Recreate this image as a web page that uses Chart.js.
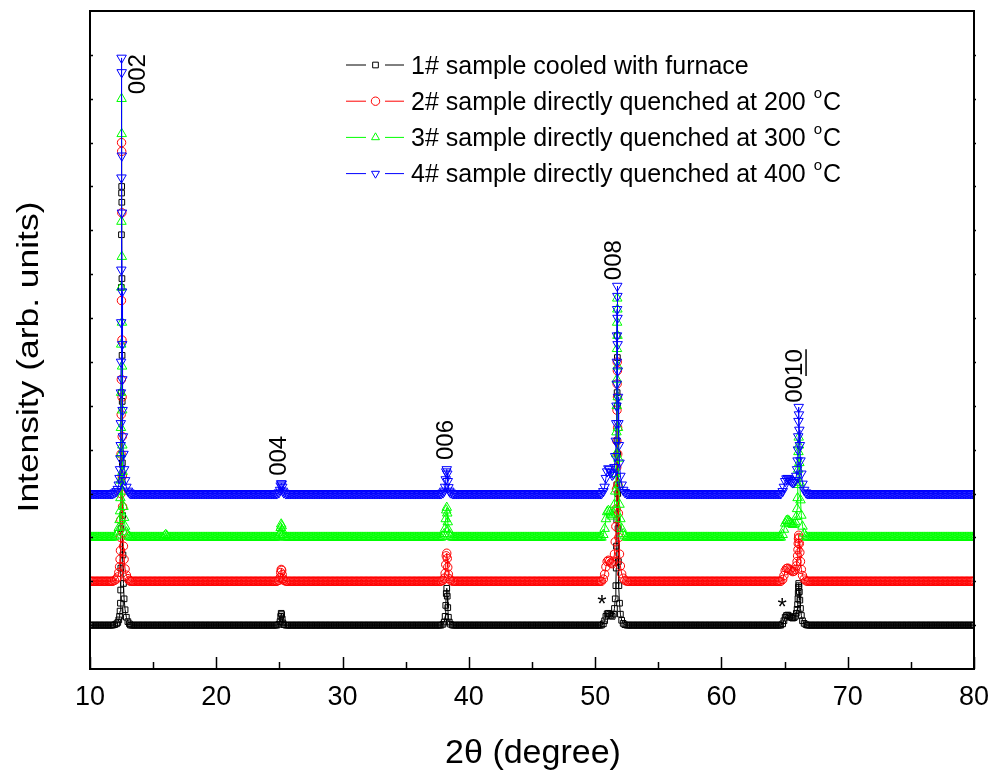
<!DOCTYPE html>
<html lang="en">
<head>
  <meta charset="UTF-8">
  <title>XRD patterns</title>
  <script src="https://cdn.jsdelivr.net/npm/chart.js"></script>
  <style>
    body { margin: 0; background: #fff; }
    #xrd { display: block; }
  </style>
</head>
<body>
  <canvas id="xrd" width="989" height="773"></canvas>
  <script>
    // scan positions, 2theta in degree (shared by the four patterns)
    const twoTheta = [
      10, 10.1, 10.2, 10.3, 10.4, 10.5, 10.6, 10.7, 10.8, 10.9,
      11, 11.1, 11.2, 11.3, 11.4, 11.5, 11.6, 11.7, 11.8,
      // 002
      11.95, 12.1, 12.2, 12.28, 12.34, 12.38, 12.41,
      12.43, 12.44, 12.45, 12.46, 12.47, 12.48, 12.49, 12.5, 12.51, 12.52, 12.53, 12.54, 12.55, 12.56,
      12.58, 12.61, 12.65, 12.7, 12.78, 12.88, 13, 13.12,
      13.2, 13.3, 13.4, 13.5, 13.6, 13.7, 13.8, 13.9,
      14, 14.1, 14.2, 14.3, 14.4, 14.5, 14.6, 14.7, 14.8, 14.9,
      15, 15.1, 15.2, 15.3, 15.4, 15.5, 15.6, 15.7, 15.8, 15.9,
      16, 16.1, 16.2, 16.3, 16.4, 16.5, 16.6, 16.7, 16.8, 16.9,
      17, 17.1, 17.2, 17.3, 17.4, 17.5, 17.6, 17.7, 17.8, 17.9,
      18, 18.1, 18.2, 18.3, 18.4, 18.5, 18.6, 18.7, 18.8, 18.9,
      19, 19.1, 19.2, 19.3, 19.4, 19.5, 19.6, 19.7, 19.8, 19.9,
      20, 20.1, 20.2, 20.3, 20.4, 20.5, 20.6, 20.7, 20.8, 20.9,
      21, 21.1, 21.2, 21.3, 21.4, 21.5, 21.6, 21.7, 21.8, 21.9,
      22, 22.1, 22.2, 22.3, 22.4, 22.5, 22.6, 22.7, 22.8, 22.9,
      23, 23.1, 23.2, 23.3, 23.4, 23.5, 23.6, 23.7, 23.8, 23.9,
      24, 24.1, 24.2, 24.3, 24.4, 24.5, 24.6, 24.7, 24.8,
      // 004
      24.95, 25.05, 25.1, 25.14, 25.18, 25.22, 25.27, 25.35,
      25.5, 25.6, 25.7, 25.8, 25.9,
      26, 26.1, 26.2, 26.3, 26.4, 26.5, 26.6, 26.7, 26.8, 26.9,
      27, 27.1, 27.2, 27.3, 27.4, 27.5, 27.6, 27.7, 27.8, 27.9,
      28, 28.1, 28.2, 28.3, 28.4, 28.5, 28.6, 28.7, 28.8, 28.9,
      29, 29.1, 29.2, 29.3, 29.4, 29.5, 29.6, 29.7, 29.8, 29.9,
      30, 30.1, 30.2, 30.3, 30.4, 30.5, 30.6, 30.7, 30.8, 30.9,
      31, 31.1, 31.2, 31.3, 31.4, 31.5, 31.6, 31.7, 31.8, 31.9,
      32, 32.1, 32.2, 32.3, 32.4, 32.5, 32.6, 32.7, 32.8, 32.9,
      33, 33.1, 33.2, 33.3, 33.4, 33.5, 33.6, 33.7, 33.8, 33.9,
      34, 34.1, 34.2, 34.3, 34.4, 34.5, 34.6, 34.7, 34.8, 34.9,
      35, 35.1, 35.2, 35.3, 35.4, 35.5, 35.6, 35.7, 35.8, 35.9,
      36, 36.1, 36.2, 36.3, 36.4, 36.5, 36.6, 36.7, 36.8, 36.9,
      37, 37.1, 37.2, 37.3, 37.4, 37.5, 37.6, 37.7, 37.8,
      // 006
      37.95, 38.05, 38.12, 38.17, 38.21, 38.25, 38.29, 38.33, 38.38, 38.45, 38.55,
      38.7, 38.8, 38.9,
      39, 39.1, 39.2, 39.3, 39.4, 39.5, 39.6, 39.7, 39.8, 39.9,
      40, 40.1, 40.2, 40.3, 40.4, 40.5, 40.6, 40.7, 40.8, 40.9,
      41, 41.1, 41.2, 41.3, 41.4, 41.5, 41.6, 41.7, 41.8, 41.9,
      42, 42.1, 42.2, 42.3, 42.4, 42.5, 42.6, 42.7, 42.8, 42.9,
      43, 43.1, 43.2, 43.3, 43.4, 43.5, 43.6, 43.7, 43.8, 43.9,
      44, 44.1, 44.2, 44.3, 44.4, 44.5, 44.6, 44.7, 44.8, 44.9,
      45, 45.1, 45.2, 45.3, 45.4, 45.5, 45.6, 45.7, 45.8, 45.9,
      46, 46.1, 46.2, 46.3, 46.4, 46.5, 46.6, 46.7, 46.8, 46.9,
      47, 47.1, 47.2, 47.3, 47.4, 47.5, 47.6, 47.7, 47.8, 47.9,
      48, 48.1, 48.2, 48.3, 48.4, 48.5, 48.6, 48.7, 48.8, 48.9,
      49, 49.1, 49.2, 49.3, 49.4, 49.5, 49.6, 49.7, 49.8, 49.9,
      50, 50.1, 50.2, 50.3, 50.4, 50.5,
      // impurity shoulder + 008
      50.65, 50.75, 50.85, 50.95, 51.05, 51.15, 51.25, 51.35, 51.45,
      51.53, 51.59, 51.64, 51.67, 51.69,
      51.71, 51.72, 51.73, 51.74, 51.75, 51.76, 51.77, 51.78, 51.79,
      51.81, 51.84, 51.88, 51.93, 52, 52.1, 52.22, 52.35,
      52.5, 52.6, 52.7, 52.8, 52.9,
      53, 53.1, 53.2, 53.3, 53.4, 53.5, 53.6, 53.7, 53.8, 53.9,
      54, 54.1, 54.2, 54.3, 54.4, 54.5, 54.6, 54.7, 54.8, 54.9,
      55, 55.1, 55.2, 55.3, 55.4, 55.5, 55.6, 55.7, 55.8, 55.9,
      56, 56.1, 56.2, 56.3, 56.4, 56.5, 56.6, 56.7, 56.8, 56.9,
      57, 57.1, 57.2, 57.3, 57.4, 57.5, 57.6, 57.7, 57.8, 57.9,
      58, 58.1, 58.2, 58.3, 58.4, 58.5, 58.6, 58.7, 58.8, 58.9,
      59, 59.1, 59.2, 59.3, 59.4, 59.5, 59.6, 59.7, 59.8, 59.9,
      60, 60.1, 60.2, 60.3, 60.4, 60.5, 60.6, 60.7, 60.8, 60.9,
      61, 61.1, 61.2, 61.3, 61.4, 61.5, 61.6, 61.7, 61.8, 61.9,
      62, 62.1, 62.2, 62.3, 62.4, 62.5, 62.6, 62.7, 62.8, 62.9,
      63, 63.1, 63.2, 63.3, 63.4, 63.5, 63.6, 63.7, 63.8, 63.9,
      64, 64.1, 64.2, 64.3, 64.4, 64.5, 64.6, 64.7,
      // impurity shoulder + 0010
      64.85, 64.95, 65.05, 65.15, 65.25, 65.35, 65.45, 65.55, 65.65, 65.75, 65.85,
      65.93, 65.99, 66.03, 66.06, 66.08, 66.1, 66.12, 66.14, 66.17, 66.21, 66.26, 66.33, 66.42, 66.55, 66.7,
      66.8, 66.9,
      67, 67.1, 67.2, 67.3, 67.4, 67.5, 67.6, 67.7, 67.8, 67.9,
      68, 68.1, 68.2, 68.3, 68.4, 68.5, 68.6, 68.7, 68.8, 68.9,
      69, 69.1, 69.2, 69.3, 69.4, 69.5, 69.6, 69.7, 69.8, 69.9,
      70, 70.1, 70.2, 70.3, 70.4, 70.5, 70.6, 70.7, 70.8, 70.9,
      71, 71.1, 71.2, 71.3, 71.4, 71.5, 71.6, 71.7, 71.8, 71.9,
      72, 72.1, 72.2, 72.3, 72.4, 72.5, 72.6, 72.7, 72.8, 72.9,
      73, 73.1, 73.2, 73.3, 73.4, 73.5, 73.6, 73.7, 73.8, 73.9,
      74, 74.1, 74.2, 74.3, 74.4, 74.5, 74.6, 74.7, 74.8, 74.9,
      75, 75.1, 75.2, 75.3, 75.4, 75.5, 75.6, 75.7, 75.8, 75.9,
      76, 76.1, 76.2, 76.3, 76.4, 76.5, 76.6, 76.7, 76.8, 76.9,
      77, 77.1, 77.2, 77.3, 77.4, 77.5, 77.6, 77.7, 77.8, 77.9,
      78, 78.1, 78.2, 78.3, 78.4, 78.5, 78.6, 78.7, 78.8, 78.9,
      79, 79.1, 79.2, 79.3, 79.4, 79.5, 79.6, 79.7, 79.8, 79.9,
      80
    ];

    // intensities (arb. units) above each pattern's own baseline
    const furnace = [
      0,0,0,0,0,0,0,0,0,0,
      0,0,0,0,0,0,0,0,0,
      0.01, 0.03, 0.06, 0.12, 0.2, 0.32, 0.5,
      0.8, 1.3, 2.2, 3.3, 5.3, 7.7, 8.9, 9.85, 10, 9.64, 7.9, 6.15, 5.1, 3.7,
      2.5, 1.6, 0.95, 0.6, 0.35, 0.18, 0.08, 0.03,
      0,0,0,0,0,0,0,0,
      0,0,0,0,0,0,0,0,0,0, 0,0,0,0,0,0,0,0,0,0, 0,0,0,0,0,0,0,0,0,0, 0,0,0,0,0,0,0,0,0,0,
      0,0,0,0,0,0,0,0,0,0, 0,0,0,0,0,0,0,0,0,0, 0,0,0,0,0,0,0,0,0,0, 0,0,0,0,0,0,0,0,0,0,
      0,0,0,0,0,0,0,0,0,0, 0,0,0,0,0,0,0,0,0,0,
      0,0,0,0,0,0,0,0,0,
      0.02, 0.08, 0.2, 0.27, 0.24, 0.14, 0.05, 0.01,
      0,0,0,0,0,
      0,0,0,0,0,0,0,0,0,0, 0,0,0,0,0,0,0,0,0,0, 0,0,0,0,0,0,0,0,0,0, 0,0,0,0,0,0,0,0,0,0,
      0,0,0,0,0,0,0,0,0,0, 0,0,0,0,0,0,0,0,0,0, 0,0,0,0,0,0,0,0,0,0, 0,0,0,0,0,0,0,0,0,0,
      0,0,0,0,0,0,0,0,0,0, 0,0,0,0,0,0,0,0,0,0, 0,0,0,0,0,0,0,0,0,0,
      0,0,0,0,0,0,0,0,0,
      0.02, 0.07, 0.2, 0.45, 0.72, 0.84, 0.66, 0.4, 0.18, 0.07, 0.02,
      0,0,0,
      0,0,0,0,0,0,0,0,0,0, 0,0,0,0,0,0,0,0,0,0, 0,0,0,0,0,0,0,0,0,0, 0,0,0,0,0,0,0,0,0,0,
      0,0,0,0,0,0,0,0,0,0, 0,0,0,0,0,0,0,0,0,0, 0,0,0,0,0,0,0,0,0,0, 0,0,0,0,0,0,0,0,0,0,
      0,0,0,0,0,0,0,0,0,0, 0,0,0,0,0,0,0,0,0,0, 0,0,0,0,0,0,0,0,0,0,
      0,0,0,0,0,0,
      0.03, 0.1, 0.2, 0.26, 0.27, 0.25, 0.22, 0.2, 0.25,
      0.38, 0.6, 0.9, 1.3, 1.8,
      2.4, 3.2, 4.2, 5.3, 6.6, 6.1, 5, 3.9, 3,
      2.2, 1.45, 0.9, 0.5, 0.25, 0.11, 0.04, 0.01,
      0,0,0,0,0,
      0,0,0,0,0,0,0,0,0,0, 0,0,0,0,0,0,0,0,0,0, 0,0,0,0,0,0,0,0,0,0, 0,0,0,0,0,0,0,0,0,0,
      0,0,0,0,0,0,0,0,0,0, 0,0,0,0,0,0,0,0,0,0, 0,0,0,0,0,0,0,0,0,0, 0,0,0,0,0,0,0,0,0,0,
      0,0,0,0,0,0,0,0,0,0, 0,0,0,0,0,0,0,0,0,0, 0,0,0,0,0,0,0,0,0,0,
      0,0,0,0,0,0,0,0,
      0.03, 0.1, 0.18, 0.22, 0.23, 0.21, 0.19, 0.17, 0.16, 0.17, 0.2,
      0.27, 0.36, 0.47, 0.6, 0.73, 0.86, 0.95, 0.9, 0.76, 0.57, 0.38, 0.22, 0.1, 0.04, 0.01,
      0,0,
      0,0,0,0,0,0,0,0,0,0, 0,0,0,0,0,0,0,0,0,0, 0,0,0,0,0,0,0,0,0,0, 0,0,0,0,0,0,0,0,0,0,
      0,0,0,0,0,0,0,0,0,0, 0,0,0,0,0,0,0,0,0,0, 0,0,0,0,0,0,0,0,0,0, 0,0,0,0,0,0,0,0,0,0,
      0,0,0,0,0,0,0,0,0,0, 0,0,0,0,0,0,0,0,0,0, 0,0,0,0,0,0,0,0,0,0, 0,0,0,0,0,0,0,0,0,0,
      0,0,0,0,0,0,0,0,0,0,
      0
    ];

    const quench200 = [
      0,0,0,0,0,0,0,0,0,0,
      0,0,0,0,0,0,0,0,0,
      0.02, 0.05, 0.1, 0.2, 0.33, 0.5, 0.7,
      1, 1.4, 2, 2.9, 3.8, 4.6, 6.4, 10, 9.8, 8.4, 5.5, 4.2, 3.3, 2.4,
      1.7, 1.1, 0.8, 0.5, 0.28, 0.14, 0.06, 0.02,
      0,0,0,0,0,0,0,0,
      0,0,0,0,0,0,0,0,0,0, 0,0,0,0,0,0,0,0,0,0, 0,0,0,0,0,0,0,0,0,0, 0,0,0,0,0,0,0,0,0,0,
      0,0,0,0,0,0,0,0,0,0, 0,0,0,0,0,0,0,0,0,0, 0,0,0,0,0,0,0,0,0,0, 0,0,0,0,0,0,0,0,0,0,
      0,0,0,0,0,0,0,0,0,0, 0,0,0,0,0,0,0,0,0,0,
      0,0,0,0,0,0,0,0,0,
      0.02, 0.08, 0.2, 0.27, 0.25, 0.15, 0.06, 0.02,
      0,0,0,0,0,
      0,0,0,0,0,0,0,0,0,0, 0,0,0,0,0,0,0,0,0,0, 0,0,0,0,0,0,0,0,0,0, 0,0,0,0,0,0,0,0,0,0,
      0,0,0,0,0,0,0,0,0,0, 0,0,0,0,0,0,0,0,0,0, 0,0,0,0,0,0,0,0,0,0, 0,0,0,0,0,0,0,0,0,0,
      0,0,0,0,0,0,0,0,0,0, 0,0,0,0,0,0,0,0,0,0, 0,0,0,0,0,0,0,0,0,0,
      0,0,0,0,0,0,0,0,0,
      0.02, 0.07, 0.18, 0.38, 0.58, 0.64, 0.52, 0.32, 0.16, 0.06, 0.02,
      0,0,0,
      0,0,0,0,0,0,0,0,0,0, 0,0,0,0,0,0,0,0,0,0, 0,0,0,0,0,0,0,0,0,0, 0,0,0,0,0,0,0,0,0,0,
      0,0,0,0,0,0,0,0,0,0, 0,0,0,0,0,0,0,0,0,0, 0,0,0,0,0,0,0,0,0,0, 0,0,0,0,0,0,0,0,0,0,
      0,0,0,0,0,0,0,0,0,0, 0,0,0,0,0,0,0,0,0,0, 0,0,0,0,0,0,0,0,0,0,
      0,0,0,0,0,0,
      0.05, 0.16, 0.33, 0.45, 0.48, 0.46, 0.42, 0.4, 0.46,
      0.62, 0.9, 1.25, 1.65, 2.1,
      2.6, 3.2, 3.9, 4.5, 5, 4.8, 4.2, 3.5, 2.9,
      2.2, 1.55, 1, 0.62, 0.35, 0.17, 0.07, 0.02,
      0,0,0,0,0,
      0,0,0,0,0,0,0,0,0,0, 0,0,0,0,0,0,0,0,0,0, 0,0,0,0,0,0,0,0,0,0, 0,0,0,0,0,0,0,0,0,0,
      0,0,0,0,0,0,0,0,0,0, 0,0,0,0,0,0,0,0,0,0, 0,0,0,0,0,0,0,0,0,0, 0,0,0,0,0,0,0,0,0,0,
      0,0,0,0,0,0,0,0,0,0, 0,0,0,0,0,0,0,0,0,0, 0,0,0,0,0,0,0,0,0,0,
      0,0,0,0,0,0,0,0,
      0.04, 0.13, 0.24, 0.29, 0.3, 0.28, 0.26, 0.24, 0.22, 0.23, 0.27,
      0.35, 0.45, 0.58, 0.72, 0.86, 0.97, 1.05, 1, 0.86, 0.66, 0.45, 0.27, 0.13, 0.05, 0.01,
      0,0,
      0,0,0,0,0,0,0,0,0,0, 0,0,0,0,0,0,0,0,0,0, 0,0,0,0,0,0,0,0,0,0, 0,0,0,0,0,0,0,0,0,0,
      0,0,0,0,0,0,0,0,0,0, 0,0,0,0,0,0,0,0,0,0, 0,0,0,0,0,0,0,0,0,0, 0,0,0,0,0,0,0,0,0,0,
      0,0,0,0,0,0,0,0,0,0, 0,0,0,0,0,0,0,0,0,0, 0,0,0,0,0,0,0,0,0,0, 0,0,0,0,0,0,0,0,0,0,
      0,0,0,0,0,0,0,0,0,0,
      0
    ];

    const quench300 = [
      0,0,0,0,0,0,0,0,0,0,
      0,0,0,0,0,0,0,0,0,
      0.02, 0.05, 0.12, 0.22, 0.4, 0.6, 0.9,
      1.3, 1.9, 2.5, 3.3, 4.4, 5.7, 7.2, 10, 9.2, 6.4, 4.9, 3.9, 2.9, 2.1,
      1.5, 1.05, 0.7, 0.45, 0.25, 0.12, 0.05, 0.02,
      0,0,0,0,0,0,0,0,
      0,0,0,0,0,0,0,0,0,0,
      0,0,0,0,0,0,0,0,0,0.03,
      0.06,0.03,0,0,0,0,0,0,0,0,
      0,0,0,0,0,0,0,0,0,0, 0,0,0,0,0,0,0,0,0,0, 0,0,0,0,0,0,0,0,0,0, 0,0,0,0,0,0,0,0,0,0,
      0,0,0,0,0,0,0,0,0,0, 0,0,0,0,0,0,0,0,0,0, 0,0,0,0,0,0,0,0,0,0,
      0,0,0,0,0,0,0,0,0,
      0.03, 0.1, 0.22, 0.3, 0.26, 0.16, 0.06, 0.02,
      0,0,0,0,0,
      0,0,0,0,0,0,0,0,0,0, 0,0,0,0,0,0,0,0,0,0, 0,0,0,0,0,0,0,0,0,0, 0,0,0,0,0,0,0,0,0,0,
      0,0,0,0,0,0,0,0,0,0, 0,0,0,0,0,0,0,0,0,0, 0,0,0,0,0,0,0,0,0,0, 0,0,0,0,0,0,0,0,0,0,
      0,0,0,0,0,0,0,0,0,0, 0,0,0,0,0,0,0,0,0,0, 0,0,0,0,0,0,0,0,0,0,
      0,0,0,0,0,0,0,0,0,
      0.02, 0.08, 0.2, 0.42, 0.62, 0.68, 0.55, 0.35, 0.17, 0.07, 0.02,
      0,0,0,
      0,0,0,0,0,0,0,0,0,0, 0,0,0,0,0,0,0,0,0,0, 0,0,0,0,0,0,0,0,0,0, 0,0,0,0,0,0,0,0,0,0,
      0,0,0,0,0,0,0,0,0,0, 0,0,0,0,0,0,0,0,0,0, 0,0,0,0,0,0,0,0,0,0, 0,0,0,0,0,0,0,0,0,0,
      0,0,0,0,0,0,0,0,0,0, 0,0,0,0,0,0,0,0,0,0, 0,0,0,0,0,0,0,0,0,0,
      0,0,0,0,0,0,
      0.06, 0.2, 0.42, 0.58, 0.61, 0.58, 0.52, 0.48, 0.55,
      0.75, 1.05, 1.45, 1.9, 2.4,
      3, 3.6, 4.3, 4.9, 5.45, 5.2, 4.6, 3.9, 3.2,
      2.5, 1.8, 1.2, 0.75, 0.42, 0.2, 0.08, 0.03,
      0,0,0,0,0,
      0,0,0,0,0,0,0,0,0,0, 0,0,0,0,0,0,0,0,0,0, 0,0,0,0,0,0,0,0,0,0, 0,0,0,0,0,0,0,0,0,0,
      0,0,0,0,0,0,0,0,0,0, 0,0,0,0,0,0,0,0,0,0, 0,0,0,0,0,0,0,0,0,0, 0,0,0,0,0,0,0,0,0,0,
      0,0,0,0,0,0,0,0,0,0, 0,0,0,0,0,0,0,0,0,0, 0,0,0,0,0,0,0,0,0,0,
      0,0,0,0,0,0,0,0,
      0.06, 0.18, 0.32, 0.38, 0.39, 0.37, 0.34, 0.31, 0.29, 0.3, 0.35,
      0.47, 0.65, 0.9, 1.2, 1.55, 1.95, 2.28, 2.1, 1.7, 1.25, 0.85, 0.5, 0.25, 0.09, 0.02,
      0,0,
      0,0,0,0,0,0,0,0,0,0, 0,0,0,0,0,0,0,0,0,0, 0,0,0,0,0,0,0,0,0,0, 0,0,0,0,0,0,0,0,0,0,
      0,0,0,0,0,0,0,0,0,0, 0,0,0,0,0,0,0,0,0,0, 0,0,0,0,0,0,0,0,0,0, 0,0,0,0,0,0,0,0,0,0,
      0,0,0,0,0,0,0,0,0,0, 0,0,0,0,0,0,0,0,0,0, 0,0,0,0,0,0,0,0,0,0, 0,0,0,0,0,0,0,0,0,0,
      0,0,0,0,0,0,0,0,0,0,
      0
    ];

    const quench400 = [
      0,0,0,0,0,0,0,0,0,0,
      0,0,0,0,0,0,0,0,0,
      0.02, 0.05, 0.1, 0.2, 0.35, 0.55, 0.8,
      1.1, 1.6, 2.3, 3, 3.9, 5.1, 7.2, 9.93, 9.6, 7.7, 6.4, 4.6, 3.4, 2.6,
      1.9, 1.3, 0.9, 0.55, 0.3, 0.15, 0.06, 0.02,
      0,0,0,0,0,0,0,0,
      0,0,0,0,0,0,0,0,0,0, 0,0,0,0,0,0,0,0,0,0, 0,0,0,0,0,0,0,0,0,0, 0,0,0,0,0,0,0,0,0,0,
      0,0,0,0,0,0,0,0,0,0, 0,0,0,0,0,0,0,0,0,0, 0,0,0,0,0,0,0,0,0,0, 0,0,0,0,0,0,0,0,0,0,
      0,0,0,0,0,0,0,0,0,0, 0,0,0,0,0,0,0,0,0,0,
      0,0,0,0,0,0,0,0,0,
      0.02, 0.08, 0.18, 0.23, 0.22, 0.15, 0.06, 0.02,
      0,0,0,0,0,
      0,0,0,0,0,0,0,0,0,0, 0,0,0,0,0,0,0,0,0,0, 0,0,0,0,0,0,0,0,0,0, 0,0,0,0,0,0,0,0,0,0,
      0,0,0,0,0,0,0,0,0,0, 0,0,0,0,0,0,0,0,0,0, 0,0,0,0,0,0,0,0,0,0, 0,0,0,0,0,0,0,0,0,0,
      0,0,0,0,0,0,0,0,0,0, 0,0,0,0,0,0,0,0,0,0, 0,0,0,0,0,0,0,0,0,0,
      0,0,0,0,0,0,0,0,0,
      0.02, 0.06, 0.15, 0.32, 0.5, 0.55, 0.45, 0.28, 0.14, 0.06, 0.02,
      0,0,0,
      0,0,0,0,0,0,0,0,0,0, 0,0,0,0,0,0,0,0,0,0, 0,0,0,0,0,0,0,0,0,0, 0,0,0,0,0,0,0,0,0,0,
      0,0,0,0,0,0,0,0,0,0, 0,0,0,0,0,0,0,0,0,0, 0,0,0,0,0,0,0,0,0,0, 0,0,0,0,0,0,0,0,0,0,
      0,0,0,0,0,0,0,0,0,0, 0,0,0,0,0,0,0,0,0,0, 0,0,0,0,0,0,0,0,0,0,
      0,0,0,0,0,0,
      0.05, 0.15, 0.35, 0.5, 0.57, 0.55, 0.48, 0.42, 0.45,
      0.6, 0.85, 1.2, 1.6, 2,
      2.5, 3, 3.6, 4.2, 4.73, 4.5, 4, 3.4, 2.8,
      2.2, 1.6, 1.1, 0.7, 0.4, 0.2, 0.08, 0.03,
      0,0,0,0,0,
      0,0,0,0,0,0,0,0,0,0, 0,0,0,0,0,0,0,0,0,0, 0,0,0,0,0,0,0,0,0,0, 0,0,0,0,0,0,0,0,0,0,
      0,0,0,0,0,0,0,0,0,0, 0,0,0,0,0,0,0,0,0,0, 0,0,0,0,0,0,0,0,0,0, 0,0,0,0,0,0,0,0,0,0,
      0,0,0,0,0,0,0,0,0,0, 0,0,0,0,0,0,0,0,0,0, 0,0,0,0,0,0,0,0,0,0,
      0,0,0,0,0,0,0,0,
      0.05, 0.15, 0.28, 0.34, 0.35, 0.33, 0.3, 0.27, 0.25, 0.26, 0.3,
      0.4, 0.55, 0.75, 1, 1.3, 1.65, 1.97, 1.8, 1.45, 1.1, 0.75, 0.45, 0.22, 0.08, 0.02,
      0,0,
      0,0,0,0,0,0,0,0,0,0, 0,0,0,0,0,0,0,0,0,0, 0,0,0,0,0,0,0,0,0,0, 0,0,0,0,0,0,0,0,0,0,
      0,0,0,0,0,0,0,0,0,0, 0,0,0,0,0,0,0,0,0,0, 0,0,0,0,0,0,0,0,0,0, 0,0,0,0,0,0,0,0,0,0,
      0,0,0,0,0,0,0,0,0,0, 0,0,0,0,0,0,0,0,0,0, 0,0,0,0,0,0,0,0,0,0, 0,0,0,0,0,0,0,0,0,0,
      0,0,0,0,0,0,0,0,0,0,
      0
    ];

    // vertical shift of each pattern so they stack
    const offsets = [1, 2, 3, 4];

    const seriesLabels = [
      '1# sample cooled with furnace',
      '2# sample directly quenched at 200 °C',
      '3# sample directly quenched at 300 °C',
      '4# sample directly quenched at 400 °C'
    ];
    const peakLabels = ['002', '004', '006', '008', '0010'];

    const FONT = 'Arial, "Liberation Sans", Helvetica, sans-serif';
    const patterns = [furnace, quench200, quench300, quench400];
    patterns.forEach((p, i) => {
      if (p.length !== twoTheta.length) {
        throw new Error('pattern ' + i + ' has ' + p.length + ' values, scan has ' + twoTheta.length);
      }
    });

    const colors = ['#000000', '#ff0000', '#00ff00', '#0000ff'];
    const markers = [
      { pointStyle: 'rect', radius: 4, rotation: 0 },
      { pointStyle: 'circle', radius: 4.2, rotation: 0 },
      { pointStyle: 'triangle', radius: 5.5, rotation: 0 },
      { pointStyle: 'triangle', radius: 5.5, rotation: 180 }
    ];

    const datasets = patterns.map((vals, i) => ({
      label: seriesLabels[i],
      data: twoTheta.map((t, k) => ({ x: t, y: vals[k] + offsets[i] })),
      borderColor: colors[i],
      borderWidth: 1,
      pointStyle: markers[i].pointStyle,
      pointRadius: markers[i].radius,
      pointRotation: markers[i].rotation,
      pointBorderColor: colors[i],
      pointBackgroundColor: 'rgba(0,0,0,0)',
      pointBorderWidth: 1,
      fill: false,
      tension: 0,
      order: 4 - i   // 400 °C pattern ends up on top
    }));

    // frame, inward ticks, axis titles, legend and peak indices
    const decor = {
      id: 'decor',
      afterDatasetsDraw(chart) {
        const { ctx, chartArea: a, scales: { x, y } } = chart;
        ctx.save();
        ctx.strokeStyle = '#000';
        ctx.fillStyle = '#000';

        ctx.lineWidth = 2;
        ctx.strokeRect(a.left, a.top, a.right - a.left, a.bottom - a.top);

        ctx.lineWidth = 1.5;
        ctx.beginPath();
        for (let v = 10; v <= 80; v += 5) {
          const px = Math.round(x.getPixelForValue(v)) + 0.5;
          const len = v % 10 === 0 ? 12 : 7;
          ctx.moveTo(px, a.bottom);
          ctx.lineTo(px, a.bottom - len);
        }
        for (let v = 1; v < 15; v++) {
          const py = Math.round(y.getPixelForValue(v)) + 0.5;
          ctx.moveTo(a.left, py); ctx.lineTo(a.left + 3, py);
          ctx.moveTo(a.right, py); ctx.lineTo(a.right + 2, py);
        }
        ctx.stroke();

        // axis titles
        ctx.textAlign = 'center';
        ctx.textBaseline = 'middle';
        ctx.font = '30px ' + FONT;
        ctx.save();
        ctx.translate(30, 357);
        ctx.rotate(-Math.PI / 2);
        ctx.scale(1.18, 1);
        ctx.fillText('Intensity (arb. units)', 0, 0);
        ctx.restore();
        ctx.font = '34px ' + FONT;
        ctx.fillText('2θ (degree)', 533, 754);

        // legend
        const lx = 346, tx = 411;
        seriesLabels.forEach((label, i) => {
          const ym = 65 + i * 36.2;
          const yb = 73.5 + i * 36.2;
          ctx.strokeStyle = colors[i];
          ctx.lineWidth = 1;
          ctx.beginPath();
          ctx.moveTo(lx, ym); ctx.lineTo(lx + 20, ym);
          ctx.moveTo(lx + 39, ym); ctx.lineTo(lx + 58, ym);
          ctx.stroke();
          ctx.fillStyle = 'rgba(0,0,0,0)';
          Chart.helpers.drawPoint(ctx, {
            pointStyle: markers[i].pointStyle,
            rotation: markers[i].rotation,
            radius: Math.min(markers[i].radius, 4.6),
            borderWidth: 1
          }, lx + 29.5, ym);

          ctx.fillStyle = '#000';
          ctx.textAlign = 'left';
          ctx.textBaseline = 'alphabetic';
          ctx.font = '25px ' + FONT;
          if (label.endsWith('°C')) {
            const main = label.slice(0, -2);
            ctx.fillText(main, tx, yb);
            let cx = tx + ctx.measureText(main).width + 1;
            ctx.font = '15px ' + FONT;
            ctx.fillText('o', cx, yb - 12);
            cx += ctx.measureText('o').width + 1;
            ctx.font = '25px ' + FONT;
            ctx.fillText('C', cx, yb);
          } else {
            ctx.fillText(label, tx, yb);
          }
        });

        // (00l) indices, written upright along the peaks
        const anchors = [[13.8, 13.56], [25.0, 4.86], [38.19, 5.22], [51.49, 9.32], [65.83, 6.68]];
        ctx.font = '24px ' + FONT;
        ctx.textAlign = 'center';
        ctx.textBaseline = 'middle';
        peakLabels.forEach((txt, i) => {
          const px = x.getPixelForValue(anchors[i][0]);
          const py = y.getPixelForValue(anchors[i][1]);
          ctx.save();
          ctx.translate(px, py);
          ctx.rotate(-Math.PI / 2);
          ctx.fillText(txt, 0, 0);
          if (txt.length === 4) {
            // l = 10 is underlined
            const w = ctx.measureText(txt).width;
            const w2 = ctx.measureText(txt.slice(0, 2)).width;
            ctx.lineWidth = 1.5;
            ctx.strokeStyle = '#000';
            ctx.beginPath();
            ctx.moveTo(-w / 2 + w2, 11);
            ctx.lineTo(w / 2, 11);
            ctx.stroke();
          }
          ctx.restore();
        });

        // impurity reflections
        ctx.font = '24px ' + FONT;
        ctx.textBaseline = 'alphabetic';
        [[50.54, 1.57], [64.8, 1.5]].forEach(([v, h]) => {
          ctx.fillText('*', x.getPixelForValue(v), y.getPixelForValue(h) + 12);
        });
        ctx.restore();
      }
    };

    new Chart(document.getElementById('xrd'), {
      type: 'line',
      data: { datasets },
      options: {
        responsive: false,
        animation: false,
        devicePixelRatio: 1,
        events: [],
        layout: { padding: { left: 90, top: 11, right: 15, bottom: 0 } },
        plugins: { legend: { display: false }, tooltip: { enabled: false } },
        scales: {
          x: {
            type: 'linear',
            min: 10,
            max: 80,
            grid: { display: false, drawTicks: false },
            border: { display: false },
            ticks: { stepSize: 10, padding: 12, color: '#000', font: { size: 27, family: FONT } },
            afterFit: s => { s.height = 104; s.paddingLeft = 0; s.paddingRight = 0; }
          },
          y: { display: false, min: 0, max: 15 }
        }
      },
      plugins: [decor]
    });
  </script>
</body>
</html>
